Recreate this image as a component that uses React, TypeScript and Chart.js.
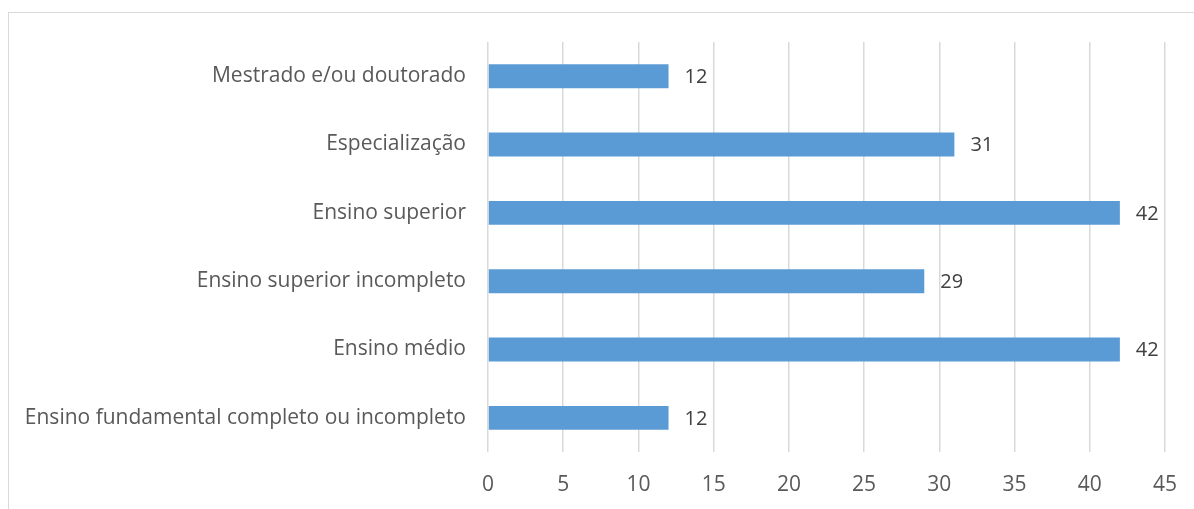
import React, { useEffect, useRef } from "react";
import { Chart, registerables } from "chart.js";

Chart.register(...registerables);

const categories = [
  "Mestrado e/ou doutorado",
  "Especialização",
  "Ensino superior",
  "Ensino superior incompleto",
  "Ensino médio",
  "Ensino fundamental completo ou incompleto",
];
const values = [12, 31, 42, 29, 42, 12];
const xMin = 0;
const xMax = 45;
const xStep = 5;

const FONT = "'Open Sans', sans-serif";

const dataLabelPlugin = {
  id: "dataLabels",
  afterDatasetsDraw(chart: any) {
    const ctx = chart.ctx;
    const meta = chart.getDatasetMeta(0);
    ctx.save();
    ctx.font = `20px ${FONT}`;
    ctx.fillStyle = "#404040";
    ctx.textAlign = "left";
    ctx.textBaseline = "middle";
    meta.data.forEach((bar: any, i: number) => {
      ctx.fillText(String(values[i]), bar.x + 16, bar.y + 1);
    });
    ctx.restore();
  },
};

export default function App() {
  const ref = useRef<HTMLCanvasElement | null>(null);
  useEffect(() => {
    if (!ref.current) return;
    const chart = new Chart(ref.current, {
      type: "bar",
      data: {
        labels: categories,
        datasets: [
          {
            data: values,
            backgroundColor: "#5b9bd5",
            borderWidth: 0,
            barPercentage: 0.35,
            categoryPercentage: 1,
          },
        ],
      },
      options: {
        indexAxis: "y",
        responsive: false,
        animation: false,
        maintainAspectRatio: false,
        layout: { padding: { left: 0, top: 42, right: 29, bottom: 0 } },
        plugins: { legend: { display: false }, tooltip: { enabled: false } },
        scales: {
          x: {
            min: xMin,
            max: xMax,
            ticks: {
              stepSize: xStep,
              color: "#595959",
              font: { family: FONT, size: 21 },
              padding: 20,
            },
            grid: { color: "#d9d9d9", lineWidth: 1.5, drawTicks: false },
            border: { display: false },
            afterFit(scale: any) {
              scale.height = 57;
              scale.paddingRight = 0;
              scale.paddingLeft = 0;
            },
          },
          y: {
            ticks: {
              color: "#595959",
              font: { family: FONT, size: 21 },
              padding: 22,
            },
            grid: { display: false, drawTicks: false },
            border: { display: false },
            afterFit(scale: any) {
              scale.width = 488;
            },
          },
        },
      },
      plugins: [dataLabelPlugin],
    });
    return () => chart.destroy();
  }, []);
  return (
    <div style={{ position: "fixed", left: 0, top: 0, width: 1194, height: 509, background: "#fff" }}>
      <div
        style={{
          position: "absolute",
          left: 8,
          top: 12,
          width: 1200,
          height: 520,
          border: "1px solid #d9d9d9",
          boxSizing: "border-box",
        }}
      />
      <canvas ref={ref} width={1194} height={509} style={{ position: "absolute", left: 0, top: 0 }} />
    </div>
  );
}
